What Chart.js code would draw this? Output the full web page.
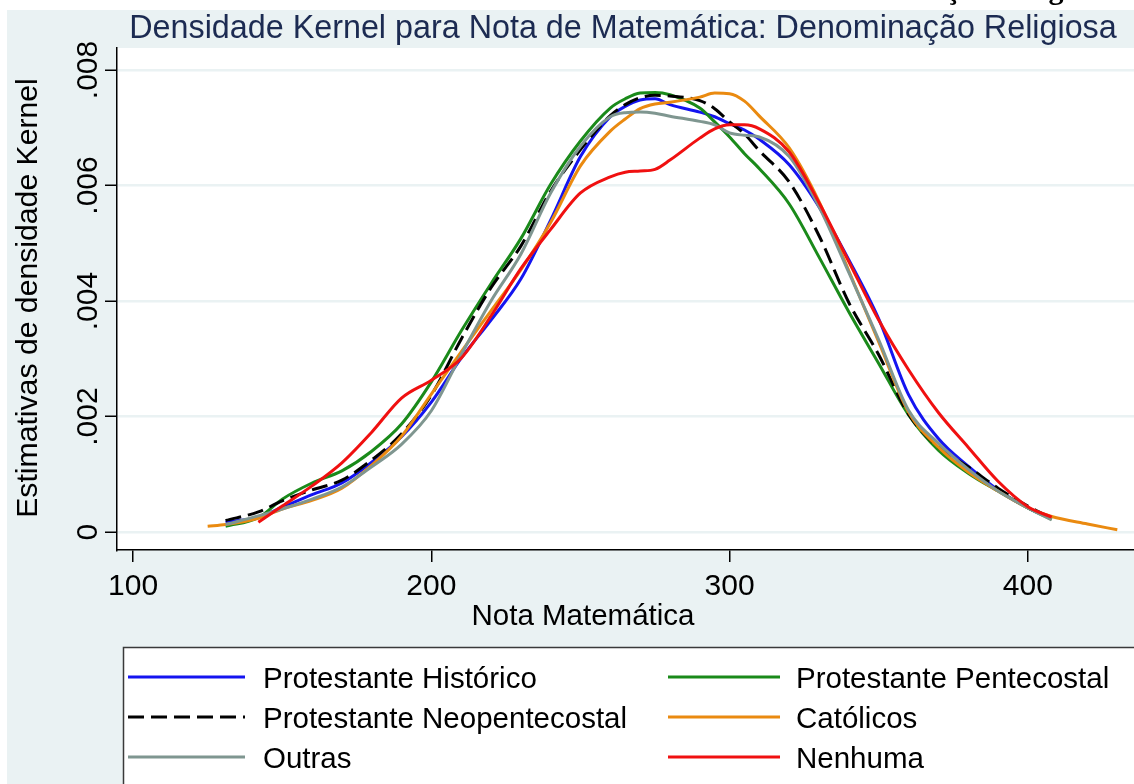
<!DOCTYPE html>
<html><head><meta charset="utf-8">
<script src="https://cdn.jsdelivr.net/npm/chart.js@4.4.1/dist/chart.umd.min.js"></script>
<style>html,body{margin:0;padding:0;background:#fff;overflow:hidden}
#wrap{position:relative;width:1134px;height:784px}</style></head>
<body><div id="wrap"><canvas id="c"></canvas></div>
<script>
// ---- data ----
const xGrid = [125,131,142,150,160,170,180,190,200,210,220,230,240,250,260,265,270,275,280,290,295,300,305,310,320,330,340,350,360,370,380,390,400,408,420,430];
const histValues = [null,0.00017,0.00026,0.00043,0.00065,0.00085,0.00121,0.00165,0.00225,0.00301,0.00367,0.00438,0.00540,0.00650,0.00719,0.00737,0.00748,0.00750,0.00740,0.00727,0.00719,0.00707,0.00696,0.00680,0.00636,0.00563,0.00471,0.00369,0.00238,0.00162,0.00114,0.00073,0.00042,0.00024,null,null];
const pentValues = [null,0.00010,0.00025,0.00057,0.00085,0.00106,0.00140,0.00187,0.00260,0.00348,0.00430,0.00508,0.00602,0.00677,0.00734,0.00750,0.00760,0.00761,0.00757,0.00734,0.00710,0.00684,0.00655,0.00629,0.00568,0.00476,0.00381,0.00292,0.00203,0.00142,0.00102,0.00071,0.00042,0.00022,null,null];
const neoValues = [null,0.00020,0.00035,0.00054,0.00073,0.00090,0.00125,0.00170,0.00237,0.00334,0.00423,0.00495,0.00590,0.00662,0.00721,0.00740,0.00752,0.00756,0.00755,0.00747,0.00733,0.00710,0.00689,0.00660,0.00606,0.00513,0.00397,0.00307,0.00204,0.00147,0.00113,0.00076,0.00045,0.00024,null,null];
const catValues = [0.00010,0.00013,0.00024,0.00040,0.00055,0.00076,0.00116,0.00166,0.00239,0.00312,0.00383,0.00454,0.00536,0.00634,0.00694,0.00715,0.00733,0.00741,0.00744,0.00753,0.00760,0.00759,0.00746,0.00720,0.00665,0.00572,0.00452,0.00329,0.00208,0.00147,0.00104,0.00071,0.00042,0.00027,0.00014,0.00004];
const outrasValues = [null,0.00013,0.00028,0.00040,0.00057,0.00078,0.00113,0.00152,0.00210,0.00307,0.00400,0.00481,0.00587,0.00668,0.00719,0.00726,0.00727,0.00725,0.00720,0.00711,0.00705,0.00691,0.00687,0.00684,0.00650,0.00563,0.00449,0.00333,0.00211,0.00154,0.00109,0.00071,0.00042,0.00021,null,null];
const nenhumaValues = [null,null,0.00017,0.00045,0.00080,0.00120,0.00173,0.00232,0.00263,0.00301,0.00374,0.00456,0.00524,0.00587,0.00615,0.00623,0.00625,0.00628,0.00644,0.00682,0.00698,0.00705,0.00705,0.00698,0.00658,0.00570,0.00468,0.00367,0.00281,0.00207,0.00147,0.00088,0.00044,0.00026,null,null];

const seriesNames = ['Protestante Histórico','Protestante Pentecostal','Protestante Neopentecostal','Católicos','Outras','Nenhuma'];
const seriesValues = [histValues,pentValues,neoValues,catValues,outrasValues,nenhumaValues];
const seriesColors = ['#1414F0','#1A8A1A','#000000','#EA8A10','#7F9690','#F01010'];
const seriesDash = [[],[],[16,7],[],[],[]];

const xTicks = [100,200,300,400];
const xTickLabels = ['100','200','300','400'];
const yTicks = [0,0.002,0.004,0.006,0.008];
const yTickLabels = ['0','.002','.004','.006','.008'];

const titleText = 'Densidade Kernel para Nota de Matemática: Denominação Religiosa';
const xTitle = 'Nota Matemática';
const yTitle = 'Estimativas de densidade Kernel';
const captionTail = 'ção Religiosa';

// ---- drawing ----
const FONT = '"Liberation Sans", Arial, sans-serif';
const BG = '#EAF2F3';

const datasets = seriesNames.map((name, i) => ({
  label: name,
  data: xGrid.map((x, j) => ({x: x, y: seriesValues[i][j]})).filter(p => p.y !== null),
  borderColor: seriesColors[i],
  borderWidth: 3,
  borderDash: seriesDash[i],
  pointRadius: 0,
  fill: false,
  cubicInterpolationMode: 'monotone',
  order: seriesNames.length - i
}));

const decor = {
  id: 'decor',
  beforeDraw(chart) {
    const {ctx, chartArea: a} = chart;
    ctx.save();
    ctx.fillStyle = '#fff'; ctx.fillRect(0, 0, chart.width, chart.height);
    ctx.fillStyle = BG; ctx.fillRect(7, 10, chart.width - 7, chart.height - 10);
    ctx.fillStyle = '#fff'; ctx.fillRect(a.left, a.top, a.right - a.left, a.bottom - a.top);
    // clipped caption text at very top
    ctx.beginPath(); ctx.rect(0, 0, chart.width, 9); ctx.clip();
    ctx.fillStyle = '#000';
    ctx.font = 'bold 30px "Liberation Serif", serif';
    ctx.textAlign = 'left'; ctx.textBaseline = 'alphabetic';
    ctx.fillText(captionTail, 946, -1);
    ctx.restore();
  },
  afterDraw(chart) {
    const {ctx} = chart;
    const xs = chart.scales.x, ys = chart.scales.y;
    ctx.save();
    ctx.textBaseline = 'alphabetic';
    // title
    ctx.fillStyle = '#1C2B52';
    ctx.font = '32.3px ' + FONT;
    ctx.textAlign = 'center';
    ctx.fillText(titleText, 623, 38);
    // x tick labels
    ctx.fillStyle = '#000';
    ctx.font = '30px ' + FONT;
    xTicks.forEach((v, i) => ctx.fillText(xTickLabels[i], xs.getPixelForValue(v), 595));
    // x title
    ctx.font = '29.5px ' + FONT;
    ctx.fillText(xTitle, 583, 625);
    // y tick labels rotated
    ctx.font = '30px ' + FONT;
    yTicks.forEach((v, i) => {
      ctx.save();
      ctx.translate(97, ys.getPixelForValue(v));
      ctx.rotate(-Math.PI / 2);
      ctx.fillText(yTickLabels[i], 0, 0);
      ctx.restore();
    });
    // y title
    ctx.save();
    ctx.font = '30.2px ' + FONT;
    ctx.translate(37, 298);
    ctx.rotate(-Math.PI / 2);
    ctx.fillText(yTitle, 0, 0);
    ctx.restore();
    // legend box
    ctx.fillStyle = '#fff';
    ctx.fillRect(123, 647, chart.width, chart.height);
    ctx.strokeStyle = '#3a3a3a'; ctx.lineWidth = 1.5;
    ctx.strokeRect(123.5, 647.5, chart.width + 10, chart.height);
    const colLine = [[128, 245], [668, 780]];
    const colText = [263, 796];
    const rowY = [677, 717, 757];
    ctx.font = '29.5px ' + FONT;
    ctx.textAlign = 'left';
    seriesNames.forEach((name, i) => {
      const c = i % 2, r = Math.floor(i / 2);
      ctx.beginPath();
      ctx.setLineDash(seriesDash[i]);
      ctx.strokeStyle = seriesColors[i]; ctx.lineWidth = 3;
      ctx.moveTo(colLine[c][0], rowY[r]); ctx.lineTo(colLine[c][1], rowY[r]);
      ctx.stroke();
      ctx.setLineDash([]);
      ctx.fillStyle = '#000';
      ctx.fillText(name, colText[c], rowY[r] + 11);
    });
    ctx.restore();
  }
};

new Chart(document.getElementById('c'), {
  type: 'line',
  data: {datasets},
  options: {
    responsive: true, maintainAspectRatio: false, animation: false,
    layout: {padding: {top: 48, left: 0, right: 0, bottom: 0}},
    plugins: {legend: {display: false}, tooltip: {enabled: false}, title: {display: false}},
    scales: {
      x: {
        type: 'linear', min: 94.6, max: 435.6,
        afterBuildTicks: s => { s.ticks = xTicks.map(v => ({value: v})); },
        afterFit: s => { s.height = 234; },
        ticks: {display: false},
        grid: {drawOnChartArea: false, color: '#000', tickColor: '#000', tickLength: 12, lineWidth: 1.5},
        border: {display: true, color: '#000', width: 1.5}
      },
      y: {
        type: 'linear', min: -0.00031, max: 0.00838,
        afterBuildTicks: s => { s.ticks = yTicks.map(v => ({value: v})); },
        afterFit: s => { s.width = 117; },
        ticks: {display: false},
        grid: {color: BG, lineWidth: 2.5, tickColor: '#000', tickLength: 12, tickWidth: 1.5},
        border: {display: true, color: '#000', width: 1.5}
      }
    }
  },
  plugins: [decor]
});
</script>
</body></html>
